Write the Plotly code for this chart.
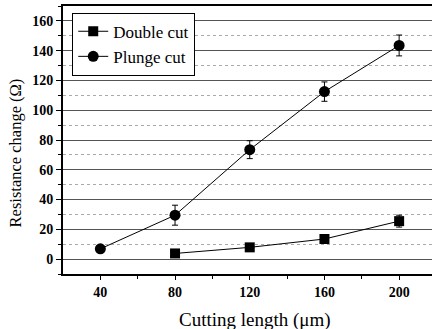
import plotly.graph_objects as go

x_double = [80, 120, 160, 200]
y_double = [3.8, 7.9, 13.5, 25.5]
err_double = [0, 0, 0, 4]

x_plunge = [40, 80, 120, 160, 200]
y_plunge = [6.9, 29.5, 73.5, 112.5, 143.5]
err_plunge = [0, 6.7, 6, 6.5, 7]

x_ticks = [40, 80, 120, 160, 200]
y_ticks = [0, 20, 40, 60, 80, 100, 120, 140, 160]

x_title = "Cutting length (μm)"
y_title = "Resistance change (Ω)"

font_family = "Liberation Serif"

fig = go.Figure()
fig.add_trace(go.Scatter(
    x=x_double, y=y_double, name="Double cut", mode="lines+markers",
    line=dict(color="black", width=1),
    marker=dict(symbol="square", size=10, color="black"),
    error_y=dict(type="data", array=err_double, color="black", thickness=1, width=3),
))
fig.add_trace(go.Scatter(
    x=x_plunge, y=y_plunge, name="Plunge cut", mode="lines+markers",
    line=dict(color="black", width=1),
    marker=dict(symbol="circle", size=11, color="black"),
    error_y=dict(type="data", array=err_plunge, color="black", thickness=1, width=3),
))

fig.update_layout(
    width=432, height=329,
    margin=dict(l=63, r=0, t=6, b=55),
    plot_bgcolor="white", paper_bgcolor="white",
    font=dict(family=font_family, color="black", size=14),
    showlegend=True,
    legend=dict(
        x=0.025, y=0.975, xanchor="left", yanchor="top",
        bgcolor="white", bordercolor="black", borderwidth=1,
        font=dict(family=font_family, size=17, color="black"),
        itemwidth=30, tracegroupgap=0,
    ),
    annotations=[
        dict(text=x_title, xref="paper", yref="paper", x=0.52, y=-0.172,
             xanchor="center", yanchor="middle", showarrow=False,
             font=dict(family=font_family, size=19, color="black")),
        dict(text=y_title, xref="paper", yref="paper", x=-0.13, y=0.45,
             xanchor="center", yanchor="middle", showarrow=False, textangle=-90,
             font=dict(family=font_family, size=16.5, color="black")),
    ],
)
fig.update_xaxes(
    range=[20, 217.6], tickvals=x_ticks,
    ticks="outside", ticklen=4, tickcolor="black",
    tickfont=dict(family=font_family, size=14, weight="bold"),
    showline=True, linecolor="black", linewidth=2, mirror=True,
    showgrid=False, zeroline=False,
    minor=dict(tickvals=[60, 100, 140, 180], ticks="outside", ticklen=3, tickcolor="black", showgrid=False),
)
fig.update_yaxes(
    range=[-10, 170], tickvals=y_ticks,
    ticks="outside", ticklen=5, tickcolor="black",
    tickfont=dict(family=font_family, size=14, weight="bold"),
    showline=True, linecolor="black", linewidth=2,
    showgrid=True, gridcolor="#555555", gridwidth=1,
    zeroline=False,
    minor=dict(tickvals=[-10, 10, 30, 50, 70, 90, 110, 130, 150, 170], ticks="outside", ticklen=3,
               tickcolor="black", showgrid=True, gridcolor="#aaaaaa", griddash="dot", gridwidth=1),
)

fig.write_html("out.html", config={"displayModeBar": False},
               post_script="document.body.style.margin='0';document.body.style.overflow='hidden';")
